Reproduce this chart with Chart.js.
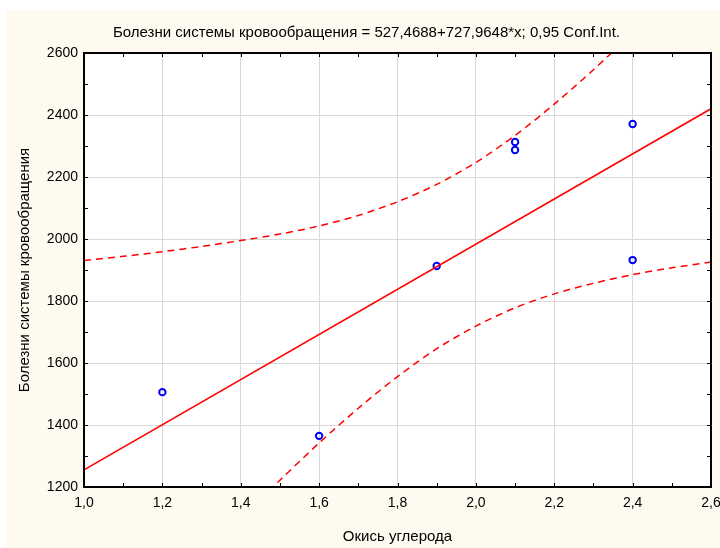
<!DOCTYPE html>
<html>
<head>
<meta charset="utf-8">
<script src="https://cdn.jsdelivr.net/npm/chart.js@4"></script>
<style>
  html, body { margin: 0; padding: 0; background: #fff; overflow: hidden; }
  #wrap { width: 720px; height: 548px; overflow: hidden; position: relative; }
  #wrap canvas { position: absolute; left: 0; top: 0; }
</style>
</head>
<body>
<div id="wrap"><canvas id="chart" width="740" height="548" style="width:740px;height:548px"></canvas></div>
<script>
// observed points
const pointX = [1.2, 1.6, 1.9, 2.1, 2.1, 2.4, 2.4];
const pointY = [1506, 1365, 1913, 2313, 2287, 2371, 1932];

// regression line end points
const fitX = [1.0, 2.6];
const fitY = [1255.4, 2420.2];

// 0,95 confidence band
const bandX = [1.0, 1.1, 1.2, 1.3, 1.4, 1.5, 1.6, 1.7, 1.8, 1.9, 2.0, 2.1, 2.2, 2.3, 2.4, 2.5, 2.6];
const bandUpper = [1931, 1944, 1959, 1976, 1995, 2016, 2042, 2076, 2120, 2176, 2247, 2334, 2435, 2546, 2665, 2787, 2914];
const bandLower = [579, 712, 843, 972, 1099, 1222, 1342, 1454, 1556, 1646, 1719, 1778, 1823, 1857, 1885, 1907, 1926];

const xTicks = [1.0, 1.2, 1.4, 1.6, 1.8, 2.0, 2.2, 2.4, 2.6];
const yTicks = [1200, 1400, 1600, 1800, 2000, 2200, 2400, 2600];
const xMinor = [1.1, 1.3, 1.5, 1.7, 1.9, 2.1, 2.3, 2.5];
const yMinor = [1300, 1500, 1700, 1900, 2100, 2300, 2500];

const FONT = "'Liberation Sans', Arial, sans-serif";
const pairs = (xs, ys) => xs.map((x, i) => ({ x: x, y: ys[i] }));

const frame = {
    id: 'frame',
    beforeDraw(chart) {
        const c = chart.ctx, a = chart.chartArea;
        c.save();
        c.fillStyle = '#fffaef';
        c.fillRect(6, 10, chart.width, chart.height);
        c.fillStyle = '#ffffff';
        c.fillRect(a.left, a.top, a.right - a.left, a.bottom - a.top);
        c.restore();
    },
    afterDraw(chart) {
        const c = chart.ctx, a = chart.chartArea;
        const sx = chart.scales.x, sy = chart.scales.y;
        c.save();
        c.strokeStyle = '#000';
        c.lineWidth = 1;
        c.beginPath();
        xTicks.concat(xMinor).forEach(v => {
            const p = Math.round(sx.getPixelForValue(v)) + 0.5;
            c.moveTo(p, a.bottom); c.lineTo(p, a.bottom - 4);
            c.moveTo(p, a.top); c.lineTo(p, a.top + 4);
        });
        yTicks.concat(yMinor).forEach(v => {
            const p = Math.round(sy.getPixelForValue(v)) + 0.5;
            c.moveTo(a.left, p); c.lineTo(a.left + 4, p);
            c.moveTo(a.right, p); c.lineTo(a.right - 4, p);
        });
        c.stroke();
        c.lineWidth = 2;
        c.strokeRect(a.left, a.top, a.right - a.left, a.bottom - a.top);
        c.restore();
    }
};

new Chart(document.getElementById('chart'), {
    type: 'scatter',
    data: {
        datasets: [
            {
                data: pairs(bandX, bandUpper),
                showLine: true,
                borderColor: '#ff0000',
                borderWidth: 1.5,
                borderDash: [7, 5],
                pointRadius: 0,
                tension: 0.3
            },
            {
                data: pairs(bandX, bandLower),
                showLine: true,
                borderColor: '#ff0000',
                borderWidth: 1.5,
                borderDash: [7, 5],
                pointRadius: 0,
                tension: 0.3
            },
            {
                data: pairs(fitX, fitY),
                showLine: true,
                borderColor: '#ff0000',
                borderWidth: 1.6,
                pointRadius: 0
            },
            {
                data: pairs(pointX, pointY),
                showLine: false,
                borderColor: '#0000ff',
                backgroundColor: 'rgba(0,0,0,0)',
                borderWidth: 2,
                pointRadius: 3.2
            }
        ]
    },
    options: {
        responsive: false,
        animation: false,
        events: [],
        layout: { padding: { left: 22, top: 10, right: 29, bottom: 0 } },
        plugins: {
            legend: { display: false },
            tooltip: { enabled: false },
            title: {
                display: true,
                text: 'Болезни системы кровообращения = 527,4688+727,9648*x; 0,95 Conf.Int.',
                color: '#000',
                font: { family: FONT, size: 15, weight: 'normal' },
                padding: { top: 14, bottom: 11 }
            }
        },
        scales: {
            x: {
                type: 'linear',
                min: 1.0,
                max: 2.6,
                afterBuildTicks: s => { s.ticks = xTicks.map(v => ({ value: v })); },
                afterFit: s => { s.height = 61; },
                grid: { color: '#d9d9d9', drawTicks: false },
                border: { display: false },
                ticks: {
                    color: '#000',
                    padding: 8,
                    font: { family: FONT, size: 14 },
                    callback: v => v.toFixed(1).replace('.', ',')
                },
                title: {
                    display: true,
                    text: 'Окись углерода',
                    color: '#000',
                    font: { family: FONT, size: 15 },
                    padding: { top: 0, bottom: 2 }
                }
            },
            y: {
                min: 1200,
                max: 2600,
                afterBuildTicks: s => { s.ticks = yTicks.map(v => ({ value: v })); },
                afterFit: s => { s.width = 62; },
                grid: { color: '#d9d9d9', drawTicks: false },
                border: { display: false },
                ticks: {
                    color: '#000',
                    padding: 6,
                    font: { family: FONT, size: 14 },
                    callback: v => String(v)
                },
                title: {
                    display: true,
                    text: 'Болезни системы кровообращения',
                    color: '#000',
                    font: { family: FONT, size: 15 },
                    padding: { top: -6, bottom: 0 }
                }
            }
        }
    },
    plugins: [frame]
});
</script>
</body>
</html>
